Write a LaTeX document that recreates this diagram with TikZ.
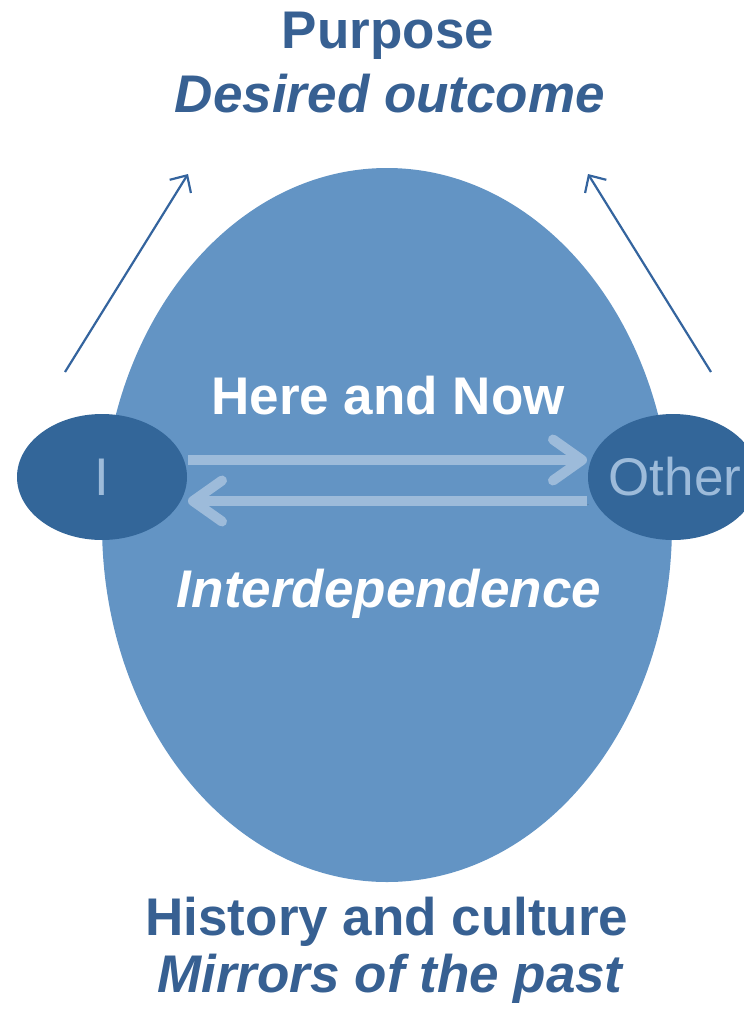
\documentclass[tikz,border=0pt]{standalone}
\usepackage{fontspec}
\setmainfont{Liberation Sans}
\usetikzlibrary{shapes.geometric,arrows.meta}
\definecolor{bigblue}{RGB}{99,148,196}
\definecolor{ellblue}{RGB}{51,102,153}
\definecolor{textblue}{RGB}{55,96,146}
\definecolor{lightblue}{RGB}{157,187,218}
\definecolor{thinblue}{RGB}{52,100,158}
\tikzset{
  bigell/.style={ellipse, fill=bigblue, draw=none, minimum width=570pt, minimum height=714pt, inner sep=0pt},
  smallell/.style={ellipse, fill=ellblue, draw=none, minimum width=170pt, minimum height=126pt, inner sep=0pt},
  elltext/.style={text=lightblue, font=\fontsize{53}{60}\selectfont},
  headtext/.style={anchor=base, text=textblue, font=\fontsize{53}{60}\selectfont\bfseries},
  headit/.style={anchor=base, text=textblue, font=\fontsize{53}{60}\selectfont\bfseries\itshape},
  whitetext/.style={anchor=base, text=white, font=\fontsize{53}{60}\selectfont\bfseries},
  whiteit/.style={anchor=base, text=white, font=\fontsize{53}{60}\selectfont\bfseries\itshape},
  thinarrow/.style={draw=thinblue, line width=2.2pt, -{Straight Barb[length=13pt,width=25pt,line width=2.2pt]}},
  fatarrow/.style={draw=lightblue, line width=10pt,
    -{Straight Barb[length=29pt,width=41pt,round]},
    preaction={draw=black!70, opacity=0.18, transform canvas={shift={(1.5pt,-3pt)}}}}
}
\begin{document}
\begin{tikzpicture}[x=1pt,y=-1pt]
\useasboundingbox (0,0) rectangle (744,1015);
\clip (0,0) rectangle (744,1015);
% main ellipse
\node[bigell] (main) at (387,525) {};
% thin arrows
\coordinate (la0) at (65,372);
\coordinate (la1) at (188,174);
\coordinate (ra0) at (711,372);
\coordinate (ra1) at (588,174);
\draw[thinarrow] (la0) -- (la1);
\draw[thinarrow] (ra0) -- (ra1);
% small ellipses
\node[smallell, label={[elltext]center:I}] (I) at (102,477) {};
\node[smallell, label={[elltext, xshift=2pt]center:Other}] (other) at (673,477) {};
% double arrows
\coordinate (u0) at (188,460);
\coordinate (u1) at (587,460);
\coordinate (d0) at (587,501);
\coordinate (d1) at (188,501);
\draw[fatarrow] (u0) -- (u1);
\draw[fatarrow] (d0) -- (d1);
% texts
\node[headtext] (purpose) at (388,48) {Purpose};
\node[headit] (desired) at (390,112) {Desired outcome};
\node[whitetext] (here) at (388,414) {Here and Now};
\node[whiteit] (inter) at (389,607) {Interdependence};
\node[headtext] (history) at (387,935) {History and culture};
\node[headit] (mirrors) at (390,992) {Mirrors of the past};
\end{tikzpicture}
\end{document}
